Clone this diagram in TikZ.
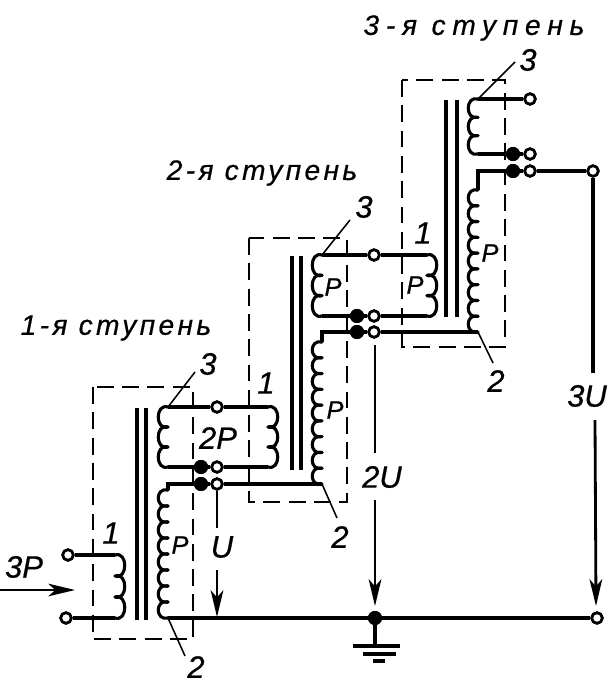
\documentclass[tikz,border=0pt]{standalone}
\usepackage{fontspec}
\usetikzlibrary{arrows.meta,calc}
\setmainfont{Liberation Sans}
\newfontfamily\titlefont[LetterSpace=12,FakeBold=0.6]{Liberation Sans}
\newfontfamily\widetitlefont[LetterSpace=24,FakeBold=0.6]{Liberation Sans}
\newfontfamily\labelfont[FakeBold=0.6]{Liberation Sans}
\tikzset{
  wire/.style={line width=2.2pt},
  thin wire/.style={line width=1.5pt},
  leader/.style={line width=1.1pt},
  corebar/.style={line width=2.2pt},
  dashbox/.style={line width=2pt,dash pattern=on 12pt off 6pt},
  opn/.style={circle,draw,fill=white,line width=1.9pt,inner sep=0pt,minimum size=7.5pt},
  blk/.style={circle,fill=black,inner sep=0pt,minimum size=10pt},
  txt/.style={font=\labelfont\itshape\fontsize{22}{22}\selectfont,inner sep=0pt},
  small/.style={font=\labelfont\itshape\fontsize{18}{18}\selectfont,inner sep=0pt},
  title/.style={font=\titlefont\itshape\fontsize{20}{20}\selectfont,inner sep=0pt},
  widetitle/.style={font=\widetitlefont\itshape\fontsize{20}{20}\selectfont,inner sep=0pt},
  arr/.style={line width=1.5pt,-{Stealth[length=19pt,width=9pt,inset=5pt]}}
}
% one winding: from, to, turns, side (-1 left, 1 right)
\newcommand{\coilrun}[4]{%
  \foreach \i in {1,...,#3}{
    \pgfmathsetmacro\ta{(\i-1)/#3}
    \pgfmathsetmacro\tb{\i/#3}
    \path ($(#1)!\ta!(#2)$) coordinate (ca) ($(#1)!\tb!(#2)$) coordinate (cb);
    \draw[wire,line cap=round] (ca) .. controls ($(ca)!-0.2!(cb)+(#4*13,0)$) and ($(cb)!-0.2!(ca)+(#4*13,0)$) .. (cb);
  }}
\begin{document}
\begin{tikzpicture}[x=0.025cm,y=-0.025cm]
  \useasboundingbox (0,0) rectangle (611,683);
  % boxes
  \draw[dashbox] (93,387) rectangle (193,639);
  \draw[dashbox] (249,238) rectangle (347,502);
  \draw[dashbox] (402,80) rectangle (505,347);
  % cores
  \foreach \x/\yt/\yb in {137/408/620,146/408/620,292/256/470,301/256/470,446/100/317,457/100/317}
    \draw[corebar] (\x,\yt) -- (\x,\yb);

  % stage 1
  \coordinate (p1t) at (115,555);
  \coordinate (p1b) at (115,618);
  \coordinate (s1t) at (168,484);
  \coordinate (s1c) at (168,490);
  \coordinate (s1b) at (168,618);
  \coordinate (r1t) at (168,407);
  \coordinate (r1b) at (168,467);
  \node[opn] (a1) at (68,555) {};
  \node[opn] (b1) at (66,618) {};
  \node[blk] (c1) at (201,467) {};
  \node[opn] (d1) at (217,467) {};
  \node[blk] (e1) at (201,484) {};
  \node[opn] (f1) at (217,484) {};
  \node[opn] (g1) at (217,407) {};

  % stage 2
  \coordinate (p2t) at (268,407);
  \coordinate (p2b) at (268,467);
  \coordinate (s2t) at (322,332);
  \coordinate (s2c) at (322,342);
  \coordinate (s2b) at (322,484);
  \coordinate (r2t) at (322,255);
  \coordinate (r2b) at (322,316);
  \node[blk] (c2) at (357,316) {};
  \node[opn] (d2) at (374,316) {};
  \node[blk] (e2) at (357,332) {};
  \node[opn] (f2) at (374,332) {};
  \node[opn] (g2) at (374,255) {};

  % stage 3
  \coordinate (p3t) at (427,255);
  \coordinate (p3b) at (427,316);
  \coordinate (s3t) at (478,171);
  \coordinate (s3c) at (478,190);
  \coordinate (s3b) at (478,332);
  \coordinate (r3t) at (478,99);
  \coordinate (r3b) at (478,154);
  \node[blk] (c3) at (513,154) {};
  \node[opn] (d3) at (530,154) {};
  \node[blk] (e3) at (513,171) {};
  \node[opn] (f3) at (530,171) {};
  \node[opn] (g3) at (530,99) {};

  % bottom line and outputs
  \node[opn] (out3) at (593,171) {};
  \node[opn] (gnd3) at (597,618) {};
  \node[blk] (gnd2) at (375,618) {};
  \coordinate (gndb) at (375,646);

  % windings
  \coilrun{p1t}{p1b}{3}{1}
  \coilrun{s1c}{s1b}{8}{-1}
  \coilrun{r1t}{r1b}{3}{-1}
  \coilrun{p2t}{p2b}{3}{1}
  \coilrun{s2c}{s2b}{9}{-1}
  \coilrun{r2t}{r2b}{3}{-1}
  \coilrun{p3t}{p3b}{3}{1}
  \coilrun{s3c}{s3b}{9}{-1}
  \coilrun{r3t}{r3b}{3}{-1}

  % wires
  \draw[wire] (a1) -- (p1t);
  \draw[wire] (b1) -- (p1b);
  \draw[wire] (s1c) -- (s1t) -- (e1) -- (f1) -- (f1-|s2b);
  \draw[wire] (r1b) -- (c1) -- (d1) -- (p2b);
  \draw[wire] (r1t) -- (g1) -- (p2t);
  \draw[wire] (s2c) -- (s2t) -- (e2) -- (f2) -- (f2-|s3b);
  \draw[wire] (r2b) -- (c2) -- (d2) -- (p3b);
  \draw[wire] (r2t) -- (g2) -- (p3t);
  \draw[wire] (s3c) -- (s3t) -- (e3) -- (f3) -- (out3);
  \draw[wire] (r3b) -- (c3) -- (d3);
  \draw[wire] (r3t) -- (g3);
  \draw[wire] (s1b) -- (gnd2) -- (gnd3);

  % redraw terminals over the wires
  \foreach \n in {a1,b1,d1,f1,g1,d2,f2,g2,d3,f3,g3,gnd3}
    \node[opn] at (\n) {};
  \foreach \n in {c1,e1,c2,e2,c3,e3,gnd2}
    \node[blk] at (\n) {};

  % earth
  \draw[wire] (gnd2) -- (gndb);
  \draw[wire] (353,646) -- (400,646);
  \draw[wire] (363,654) -- (396,654);
  \draw[wire] (373,661) -- (385,661);

  % voltage arrows
  \coordinate (u1a) at (217,528);
  \coordinate (u1b) at (217,570);
  \coordinate (u1c) at (217,617);
  \coordinate (u2t) at (375,345);
  \coordinate (u2a) at (375,453);
  \coordinate (u2b) at (375,500);
  \coordinate (u2c) at (375,606);
  \coordinate (u3a) at (593,373);
  \coordinate (u3b) at (595,420);
  \coordinate (u3c) at (596,606);
  \draw[thin wire] (f1) -- (u1a);
  \draw[arr] (u1b) -- (u1c);
  \draw[thin wire] (u2t) -- (u2a);
  \draw[arr] (u2b) -- (u2c);
  \draw[wire] (out3) -- (u3a);
  \draw[arr,line width=2pt] (u3b) -- (u3c);
  \node[opn] at (out3) {};
  \coordinate (in0) at (0,590);
  \coordinate (in1) at (75,590);
  \draw[arr] (in0) -- (in1);

  % leaders
  \draw[leader] (r1t) -- (195,372);
  \draw[leader] (s1b) -- (185,656);
  \draw[leader] (r2t) -- (350,220);
  \draw[leader] (s2b) -- (337,518);
  \draw[leader] (r3t) -- (515,62);
  \draw[leader] (s3b) -- (493,363);

  % labels
  \node[title] (st1) at (116,328) {1-я ступень};
  \node[title] (st2) at (262,173) {2-я ступень};
  \node[widetitle] (st3) at (474,28) {3-я ступень};
  \node[txt] (n3a) at (208,364) {3};
  \node[txt] (n3b) at (364,207) {3};
  \node[txt] (n3c) at (528,60) {3};
  \node[txt] (n2a) at (196,667) {2};
  \node[txt] (n2b) at (340,537) {2};
  \node[txt] (n2c) at (496,381) {2};
  \node[txt] (n1a) at (111,533) {1};
  \node[txt] (n1b) at (266,383) {1};
  \node[txt] (n1c) at (423,233) {1};
  \node[txt] (lp3) at (24,567) {3P};
  \node[txt] (lp2) at (218,438) {2P};
  \node[txt] (lu1) at (222,547) {U};
  \node[txt] (lu2) at (382,477) {2U};
  \node[txt] (lu3) at (587,396) {3U};
  \node[small] (pa) at (180,545) {P};
  \node[small] (pb) at (333,287) {P};
  \node[small] (pc) at (335,410) {P};
  \node[small] (pd) at (415,285) {P};
  \node[small] (pe) at (490,253) {P};
\end{tikzpicture}
\end{document}
